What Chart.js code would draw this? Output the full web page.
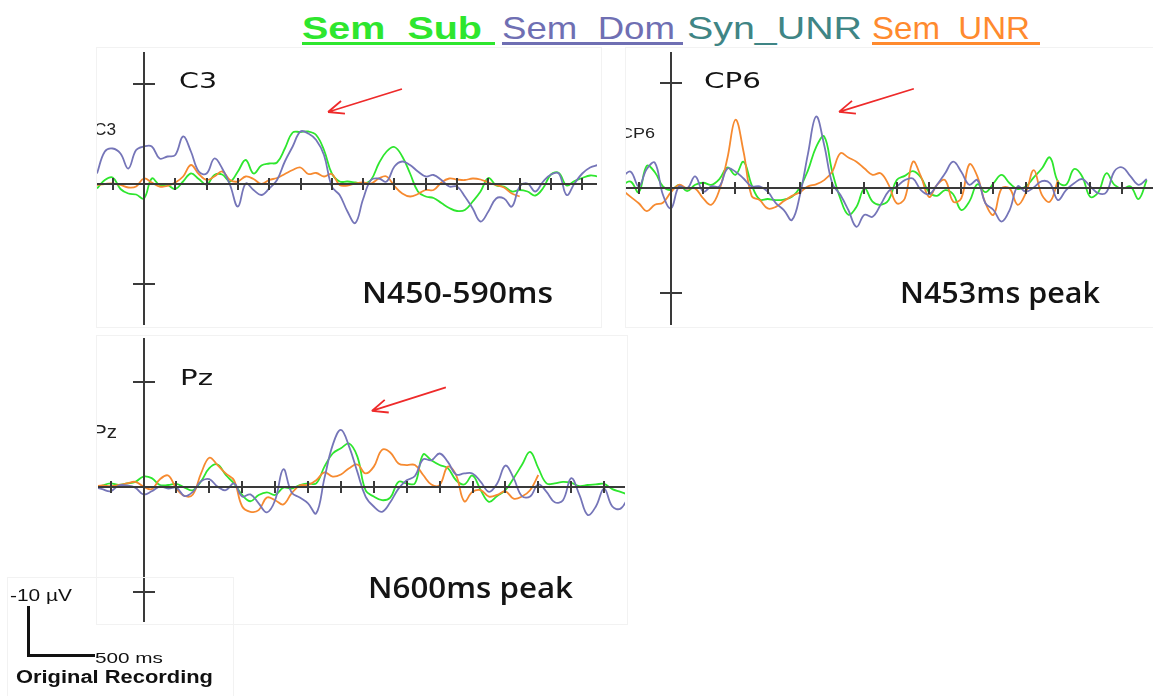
<!DOCTYPE html>
<html>
<head>
<meta charset="utf-8">
<script src="https://cdn.jsdelivr.net/npm/chart.js@4.4.1/dist/chart.umd.min.js"></script>
<style>
  html, body { margin: 0; padding: 0; background: #ffffff; }
  body { width: 1153px; height: 696px; position: relative; overflow: hidden;
         font-family: "Liberation Sans", Arial, sans-serif; }
  .panel { position: absolute; outline: 1px solid #f2f2f2; }
  .panel canvas { display: block; }
  .fit { position: absolute; white-space: pre; transform-origin: 0 0; line-height: 1; }
  .uline { position: absolute; height: 3px; }
  .bar { position: absolute; background: #111; }
  .scalebox { position: absolute; left: 8px; top: 578px; width: 225px; height: 118px; outline: 1px solid #f2f2f2; }
</style>
</head>
<body>

<!-- condition legend -->
<div class="fit" data-w="180" style="left:302px;top:12px;font-size:32px;font-weight:bold;color:#2ee62e;">Sem_Sub</div>
<div class="uline" style="left:302px;top:42px;width:193px;background:#2ee62e;"></div>
<div class="fit" data-w="173" style="left:502px;top:12px;font-size:32px;color:#6f6fb3;">Sem_Dom</div>
<div class="uline" style="left:502px;top:42px;width:181px;background:#6f6fb3;"></div>
<div class="fit" data-w="175" style="left:687px;top:12px;font-size:32px;color:#3f8585;">Syn_UNR</div>
<div class="fit" data-w="158" style="left:872px;top:12px;font-size:32px;color:#ff8a2e;">Sem_UNR</div>
<div class="uline" style="left:872px;top:42px;width:168px;background:#ff8a2e;"></div>

<div class="panel" style="left:97px;top:48px;width:504px;height:279px;"><canvas id="c3" width="504" height="279"></canvas></div>
<div class="panel" style="left:626px;top:48px;width:527px;height:279px;"><canvas id="cp6" width="527" height="279"></canvas></div>
<div class="panel" style="left:97px;top:336px;width:530px;height:288px;"><canvas id="pz" width="530" height="288"></canvas></div>

<!-- calibration bar -->
<div class="scalebox"></div>
<div class="fit" data-w="62" style="left:10px;top:588px;font-size:16px;color:#111;">-10 µV</div>
<div class="bar" style="left:27px;top:606px;width:3px;height:51px;"></div>
<div class="bar" style="left:27px;top:654px;width:68px;height:3px;"></div>
<div class="fit" data-w="68" style="left:95px;top:650px;font-size:15px;color:#111;">500 ms</div>
<div class="fit" data-w="197" style="left:16px;top:668px;font-size:18px;font-weight:bold;color:#111;">Original Recording</div>

<script>
// Sample times (ms after stimulus onset) shared by every trace
const timeMs = [-150,-125,-100,-75,-50,-25,0,25,50,75,100,125,150,175,200,225,250,275,300,325,
  350,375,400,425,450,475,500,525,550,575,600,625,650,675,700,725,750,775,800,825,
  850,875,900,925,950,975,1000,1025,1050,1075,1100,1125,1150,1175,1200,1225,1250,1275,1300,1325,
  1350,1375,1400,1425,1450,1475];

// Grand-average amplitudes in µV (negative plotted upward)
const c3Sub = [0.9,-0.8,-1.3,1.0,1.9,2.1,2.9,-1.1,0.2,0.2,
  1.0,-0.5,-2.1,-1.0,0.1,-1.8,-1.9,-0.5,-2.5,-4.8,
  -2.1,-3.7,-4.1,-4.3,-7.1,-10.3,-10.4,-10.5,-9.8,-6.8,
  -2.1,-0.5,-0.5,-0.3,-0.1,-0.8,-4.1,-6.5,-7.4,-5.5,
  -2.1,1.5,2.5,2.8,3.8,4.8,5.4,5.2,3.5,1.5,
  -1.2,0.3,0.5,1.5,1.2,1.5,2.3,0.8,-1.9,-2.2,
  0.3,-0.6,-1.2,-1.7,-1.5];
const c3Dom = [-2.1,-6.5,-7.1,-6.1,-3.1,-6.8,-7.5,-7.5,-5.1,-5.5,
  -5.8,-9.5,-6.5,-2.5,-2.1,-5.1,-3.1,0.2,4.5,-0.1,
  1.2,2.2,0.9,-0.8,-4.5,-7.5,-10.5,-10.1,-8.8,-5.8,
  0.5,2.2,5.5,7.8,3.0,-0.8,-1.1,-0.5,-3.5,-4.5,
  -3.8,-2.5,-1.5,-1.8,-0.8,0.5,0.5,2.5,4.9,7.5,
  5.5,2.9,2.9,4.5,0.5,-0.1,1.5,-0.5,-1.9,-2.1,
  2.2,-0.1,-2.1,-3.3,-3.8];
const c3Unr = [0.2,0.0,-0.1,0.2,0.7,0.5,-1.1,-0.3,0.5,0.4,
  -0.3,-1.5,-3.8,-2.0,-0.8,-1.5,-2.5,-0.8,-0.5,-1.5,
  -1.0,0.0,-0.8,-1.2,-2.0,-2.8,-3.3,-2.0,-2.2,-1.5,
  -2.0,0.2,0.3,-0.1,-0.3,-0.1,-1.1,-1.5,0.4,1.9,
  2.5,2.0,1.2,1.2,-0.3,-1.1,-0.9,-0.8,-1.1,-0.9,
  -0.3,0.2,0.7,1.9,2.5];

const cp6Sub = [-0.6,-1.2,0.8,-4.2,-3.0,-0.3,0.4,-0.6,0.6,-0.6,
  -1.0,-0.6,-1.7,-3.9,-2.5,-5.0,-0.6,2.2,2.1,2.3,
  2.2,1.7,-0.1,-3.4,-7.8,-9.8,-3.1,2.0,5.1,3.6,
  0.1,2.6,3.2,2.3,-1.5,-2.3,-3.2,-2.0,0.8,1.5,
  0.4,1.2,4.2,2.6,-0.7,0.8,-0.9,-2.5,-0.9,0.2,
  -0.3,-2.0,-3.7,-5.8,-1.2,-0.6,-3.6,-2.2,1.7,0.8,
  -2.8,-0.6,0.1,-0.3,2.1,-1.5];
const cp6Dom = [-2.2,-3.1,-0.3,-3.6,-4.8,1.3,3.9,-0.3,0.1,-2.2,
  0.7,-0.3,-0.3,-3.7,-3.1,-1.8,-0.3,-0.3,0.7,2.9,
  4.2,6.1,1.3,-6.6,-13.6,-8.2,-0.9,1.3,4.2,7.4,
  5.1,5.5,3.2,0.6,-0.3,-1.5,-1.8,0.4,1.2,-0.6,
  -2.8,-5.0,-3.1,-0.6,-1.5,2.9,4.2,6.4,4.2,-0.3,
  0.7,-0.1,-1.3,-0.9,2.3,0.4,-0.9,-1.7,-0.3,1.0,
  0.8,-3.2,-3.9,-2.2,-0.6,-1.7];
const cp6Unr = [0.4,1.7,2.9,4.4,3.2,2.8,0.8,-0.6,0.1,0.1,
  2.0,3.2,0.4,-5.7,-13.0,-6.9,1.5,2.3,3.9,3.6,
  2.5,1.5,0.8,-0.3,-0.7,-1.5,-3.1,-6.6,-5.8,-5.0,
  -3.7,-2.5,-2.8,-0.6,2.9,2.0,-5.0,-2.2,1.7,-0.6,
  -1.5,2.6,2.0,-4.5,-2.2,2.9,5.1,0.1,0.1,3.2,
  1.0,-3.4,1.3,2.6,-1.5];

const pzSub = [0.3,-0.3,-0.7,-0.4,-0.7,-1.0,-2.0,-1.7,-0.4,-0.4,
  -0.6,0.1,0.6,-1.1,-3.6,-4.3,-2.3,-0.7,1.5,2.7,
  1.5,1.0,1.5,0.1,0.3,-0.4,-0.7,-0.7,-3.9,-6.4,
  -7.4,-8.3,-5.8,0.6,1.8,2.5,2.0,-1.0,-0.7,-0.7,
  -6.2,-5.1,-4.2,-3.6,-1.3,-0.5,-2.2,0.6,2.8,1.7,
  0.6,-1.7,-4.2,-6.7,-3.6,-0.7,-0.7,-1.0,-0.8,-0.2,
  -0.4,-0.5,-0.6,0.4,0.9,1.5];
const pzDom = [0.0,0.4,0.8,-0.3,-0.3,0.1,1.4,0.8,-0.1,0.3,
  0.1,1.7,0.9,-1.1,-1.5,-0.1,0.6,-0.7,1.8,1.4,
  3.1,4.8,2.5,-3.4,1.0,2.0,3.1,5.0,-1.7,-8.0,
  -10.9,-7.7,-2.9,1.8,3.7,4.7,2.9,0.3,-1.3,-2.1,
  -5.3,-5.1,-6.4,-4.8,-2.4,-2.6,-2.6,-1.0,0.9,-0.7,
  -4.1,-1.7,1.7,1.8,-0.5,0.9,2.9,2.5,-1.7,1.5,
  5.3,3.7,0.3,3.7,4.1,1.8];
const pzUnr = [-0.1,-0.3,-0.2,-0.4,-0.7,-1.0,-0.1,0.4,-1.5,-2.2,
  0.3,1.7,1.4,-2.6,-5.6,-4.2,-2.6,-1.3,3.7,4.7,
  4.4,2.0,2.5,3.3,1.2,-0.3,-0.4,-1.3,-2.8,-2.0,
  -2.4,-3.6,-4.3,-2.6,-3.9,-7.1,-6.6,-4.5,-4.2,-4.2,
  -2.3,-0.5,-0.4,-3.9,-2.3,2.7,0.9,0.6,1.8,1.5,
  0.8,2.2,1.8,0.6,-2.3];

// Axis tick positions
const xTickMs = [-100,0,100,200,300,400,500,600,700,800,900,1000,1100,1200,1300,1400];
const yTickUv = [-20, 20];

const colors = { sub: '#2ee62e', dom: '#7575b8', unr: '#f68a30' };

function toPoints(values) {
  return values.map((v, i) => ({ x: timeMs[i], y: v }));
}

function fitText(ctx, text, x, baseline, width, font, color) {
  ctx.save();
  ctx.font = font;
  ctx.fillStyle = color;
  ctx.textBaseline = 'alphabetic';
  const w = ctx.measureText(text).width;
  ctx.translate(x, baseline);
  ctx.scale(width / w, 1);
  ctx.fillText(text, 0, 0);
  ctx.restore();
}

// Draws the EEG cross-hair axes, the labels and the pointer arrow of one electrode panel
const eegFrame = {
  id: 'eegFrame',
  afterDatasetsDraw(chart, args, opts) {
    const { ctx, chartArea: a, scales: { x, y } } = chart;
    const x0 = Math.round(x.getPixelForValue(0));
    const y0 = Math.round(y.getPixelForValue(0));
    ctx.save();
    ctx.strokeStyle = '#3a3a3a';
    ctx.lineWidth = 2;
    ctx.beginPath();
    ctx.moveTo(a.left, y0); ctx.lineTo(a.right, y0);
    ctx.moveTo(x0, a.top); ctx.lineTo(x0, a.bottom);
    xTickMs.forEach(t => {
      const px = Math.round(x.getPixelForValue(t));
      ctx.moveTo(px, y0 - 6); ctx.lineTo(px, y0 + 6);
    });
    yTickUv.forEach(v => {
      const py = Math.round(y.getPixelForValue(v));
      ctx.moveTo(x0 - 11, py); ctx.lineTo(x0 + 11, py);
    });
    ctx.stroke();

    // red pointer arrow, anchored in time / amplitude units
    const ar = opts.arrow;
    const tx = x.getPixelForValue(ar.from[0]), ty = y.getPixelForValue(ar.from[1]);
    const hx = x.getPixelForValue(ar.to[0]), hy = y.getPixelForValue(ar.to[1]);
    const ang = Math.atan2(ty - hy, tx - hx);
    ctx.strokeStyle = '#ee2a2a';
    ctx.lineWidth = 1.8;
    ctx.beginPath();
    ctx.moveTo(tx, ty); ctx.lineTo(hx, hy);
    [-0.4, 0.4].forEach(d => {
      ctx.moveTo(hx, hy);
      ctx.lineTo(hx + 17 * Math.cos(ang + d), hy + 17 * Math.sin(ang + d));
    });
    ctx.stroke();

    // texts, given in page pixels
    const ox = opts.origin[0], oy = opts.origin[1];
    opts.texts.forEach(t => fitText(ctx, t.text, t.x - ox, t.y - oy, t.w, t.font, t.color));
    ctx.restore();
  }
};

function makePanel(id, cfg) {
  const ds = [
    { label: 'Sem_Dom', data: toPoints(cfg.dom), borderColor: colors.dom },
    { label: 'Sem_UNR', data: toPoints(cfg.unr), borderColor: colors.unr },
    { label: 'Sem_Sub', data: toPoints(cfg.sub), borderColor: colors.sub }
  ];
  return new Chart(document.getElementById(id), {
    type: 'line',
    data: { datasets: ds },
    options: {
      responsive: false,
      animation: false,
      devicePixelRatio: 1,
      events: [],
      layout: { padding: cfg.padding },
      elements: {
        point: { radius: 0 },
        line: { tension: 0.4, borderWidth: 1.8, fill: false }
      },
      scales: {
        x: { type: 'linear', min: cfg.xRange[0], max: cfg.xRange[1], display: false },
        y: { type: 'linear', min: cfg.yRange[0], max: cfg.yRange[1], reverse: true, display: false }
      },
      plugins: {
        legend: { display: false },
        tooltip: { enabled: false },
        eegFrame: { origin: cfg.origin, arrow: cfg.arrow, texts: cfg.texts }
      }
    },
    plugins: [eegFrame]
  });
}

const labelFont = '21px "DejaVu Sans", sans-serif';
const noteFont = '600 29px "Open Sans", sans-serif';
const ink = '#141414';

const charts = [
  makePanel('c3', {
    sub: c3Sub, dom: c3Dom, unr: c3Unr,
    origin: [97, 48],
    padding: { left: 0, right: 4, top: 4, bottom: 2 },
    xRange: [-150, 1447], yRange: [-26.4, 28.2],
    arrow: { from: [824, -19.0], to: [588, -14.4] },
    texts: [
      { text: 'C3', x: 179, y: 88, w: 38, font: labelFont, color: ink },
      { text: 'N450-590ms', x: 362, y: 303, w: 191, font: noteFont, color: ink },
      { text: 'C3', x: 94, y: 135, w: 22, font: '16px "Liberation Sans", sans-serif', color: '#222' }
    ]
  }),
  makePanel('cp6', {
    sub: cp6Sub, dom: cp6Dom, unr: cp6Unr,
    origin: [626, 48],
    padding: { left: 0, right: 0, top: 4, bottom: 2 },
    xRange: [-139.5, 1494.6], yRange: [-25.9, 26.1],
    arrow: { from: [753, -18.9], to: [521, -14.5] },
    texts: [
      { text: 'CP6', x: 704, y: 88, w: 57, font: labelFont, color: ink },
      { text: 'N453ms peak', x: 900, y: 303, w: 200, font: noteFont, color: ink },
      { text: 'CP6', x: 620, y: 138, w: 35, font: '14px "Liberation Sans", sans-serif', color: '#222' }
    ]
  }),
  makePanel('pz', {
    sub: pzSub, dom: pzDom, unr: pzUnr,
    origin: [97, 336],
    padding: { left: 1, right: 2, top: 2, bottom: 2 },
    xRange: [-138.3, 1463.5], yRange: [-28.4, 25.7],
    arrow: { from: [919, -19.0], to: [694, -14.5] },
    texts: [
      { text: 'Pz', x: 180, y: 385, w: 33, font: labelFont, color: ink },
      { text: 'N600ms peak', x: 368, y: 598, w: 205, font: noteFont, color: ink },
      { text: 'Pz', x: 93, y: 438, w: 24, font: '19px "Liberation Sans", sans-serif', color: '#222' }
    ]
  })
];

function fitAll() {
  document.querySelectorAll('.fit').forEach(el => {
    el.style.transform = 'none';
    const w = el.getBoundingClientRect().width;
    el.style.transform = 'scaleX(' + (parseFloat(el.dataset.w) / w) + ')';
  });
}
fitAll();
if (document.fonts && document.fonts.ready) {
  document.fonts.ready.then(() => { fitAll(); charts.forEach(c => c.draw()); });
}
</script>
</body>
</html>
